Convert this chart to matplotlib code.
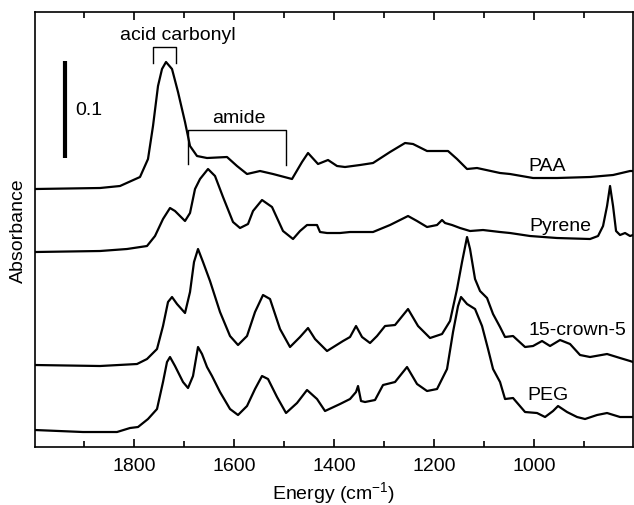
import matplotlib.pyplot as plt
from matplotlib.ticker import FixedLocator

plt.rcParams['font.family'] = ['Liberation Sans', 'DejaVu Sans']

# IR spectra; heights are offset absorbance (pixel-scaled units)
paa_wn = [1998, 1868, 1828, 1788, 1772, 1762, 1752, 1744, 1736, 1724, 1712, 1698, 1688, 1674, 1654,
          1614, 1594, 1574, 1548, 1522, 1484, 1464, 1452, 1432, 1412, 1394, 1378, 1348, 1322, 1288,
          1258, 1242, 1214, 1172, 1154, 1134, 1114, 1068, 1048, 1002, 954, 888, 842, 808, 802]
paa_abs = [258, 259, 261, 270, 288, 321, 361, 378, 385, 378, 355, 325, 301, 291, 289,
           290, 281, 273, 276, 273, 268, 285, 294, 283, 287, 281, 280, 282, 284, 295,
           304, 303, 296, 296, 288, 278, 279, 274, 273, 269, 269, 270, 272, 276, 276]

pyrene_wn = [1998, 1868, 1814, 1774, 1758, 1742, 1728, 1718, 1698, 1688, 1678, 1668, 1652, 1638, 1622,
             1602, 1588, 1572, 1562, 1544, 1524, 1502, 1482, 1468, 1454, 1434, 1428, 1414, 1388, 1368,
             1322, 1288, 1252, 1234, 1214, 1194, 1184, 1178, 1164, 1148, 1128, 1102, 1068, 1048, 1008,
             954, 888, 872, 862, 854, 848, 842, 836, 828, 818, 808, 802]
pyrene_abs = [195, 196, 198, 201, 211, 228, 239, 236, 226, 234, 258, 268, 278, 271, 250,
              225, 219, 223, 236, 247, 240, 216, 208, 216, 222, 222, 215, 214, 214, 215,
              215, 222, 231, 226, 220, 222, 227, 224, 222, 219, 216, 217, 215, 214, 211,
              209, 208, 211, 221, 241, 261, 241, 216, 212, 214, 211, 212]

crown_wn = [1998, 1868, 1794, 1774, 1754, 1742, 1732, 1724, 1714, 1698, 1688, 1680, 1672, 1662, 1648,
            1628, 1608, 1592, 1574, 1558, 1542, 1528, 1508, 1488, 1468, 1452, 1438, 1414, 1382, 1368,
            1356, 1344, 1328, 1314, 1298, 1278, 1252, 1232, 1208, 1184, 1168, 1154, 1144, 1134, 1128,
            1118, 1108, 1094, 1082, 1068, 1058, 1042, 1018, 1002, 984, 968, 948, 928, 908, 888,
            854, 828, 808, 802]
crown_abs = [82, 81, 83, 88, 98, 121, 145, 150, 143, 134, 155, 185, 198, 185, 166,
             135, 111, 102, 111, 135, 152, 148, 118, 100, 110, 119, 108, 96, 106, 110,
             121, 110, 104, 111, 121, 122, 138, 121, 109, 113, 126, 158, 185, 210, 198,
             168, 156, 149, 133, 120, 110, 111, 100, 101, 106, 101, 107, 103, 92, 90,
             93, 89, 86, 85]

peg_wn = [1998, 1902, 1834, 1808, 1792, 1772, 1754, 1742, 1734, 1728, 1718, 1702, 1692, 1682, 1672,
          1664, 1654, 1644, 1628, 1608, 1592, 1574, 1558, 1544, 1532, 1514, 1496, 1474, 1454, 1434,
          1418, 1388, 1368, 1356, 1352, 1346, 1338, 1328, 1318, 1302, 1278, 1254, 1234, 1214, 1194,
          1174, 1162, 1152, 1146, 1134, 1118, 1104, 1092, 1082, 1068, 1058, 1042, 1018, 994, 978,
          962, 952, 934, 914, 898, 874, 854, 828, 802]
peg_abs = [17, 15, 15, 19, 20, 28, 38, 65, 85, 90, 81, 65, 59, 71, 100,
           93, 80, 71, 55, 38, 32, 41, 58, 71, 68, 50, 34, 44, 57, 48,
           36, 43, 48, 55, 61, 46, 45, 46, 47, 62, 65, 80, 63, 56, 58,
           78, 115, 141, 150, 143, 138, 121, 98, 78, 65, 48, 49, 35, 34, 30,
           36, 41, 35, 30, 28, 32, 34, 30, 30]

spectra = [(paa_wn, paa_abs), (pyrene_wn, pyrene_abs), (crown_wn, crown_abs), (peg_wn, peg_abs)]
names = ['PAA', 'Pyrene', '15-crown-5', 'PEG']
name_pos = [(974, 282), (948, 222), (914, 118), (972, 53)]

major_ticks = [1800, 1600, 1400, 1200, 1000]
minor_ticks = [1900, 1700, 1500, 1300, 1100, 900]

fig = plt.figure(figsize=(6.34, 5.06), dpi=100)
ax = fig.add_axes([0.0552, 0.1146, 0.9433, 0.8597])

for (wn, a), name, (tx, ty) in zip(spectra, names, name_pos):
    ax.plot(wn, a, color='black', lw=1.6, solid_joinstyle='round')
    ax.text(tx, ty, name, fontsize=14, ha='center', va='center')

# scale bar (0.1 absorbance)
ax.plot([1938, 1938], [289, 386], color='black', lw=3, solid_capstyle='butt')
ax.text(1918, 338, '0.1', fontsize=14, ha='left', va='center')

# band brackets
ax.plot([1762, 1762, 1716, 1716], [384, 400, 400, 384], color='black', lw=1)
ax.text(1712, 413, 'acid carbonyl', fontsize=14, ha='center', va='center')
ax.plot([1692, 1692, 1496, 1496], [283, 317, 317, 282], color='black', lw=1)
ax.text(1590, 330, 'amide', fontsize=14, ha='center', va='center')

ax.set_xlim(1998, 802)
ax.set_ylim(0, 435)
ax.xaxis.set_major_locator(FixedLocator(major_ticks))
ax.xaxis.set_minor_locator(FixedLocator(minor_ticks))
ax.tick_params(axis='x', which='both', direction='in', top=True, labelsize=14, width=1.2)
ax.tick_params(axis='x', which='major', length=6, pad=7)
ax.tick_params(axis='x', which='minor', length=4)
ax.set_yticks([])
for s in ax.spines.values():
    s.set_linewidth(1.2)

ax.set_xlabel('Energy (cm$^{\\mathregular{-1}}$)', fontsize=14, labelpad=4)
ax.set_ylabel('Absorbance', fontsize=14, labelpad=6)

fig.savefig('out.png', dpi=100)
